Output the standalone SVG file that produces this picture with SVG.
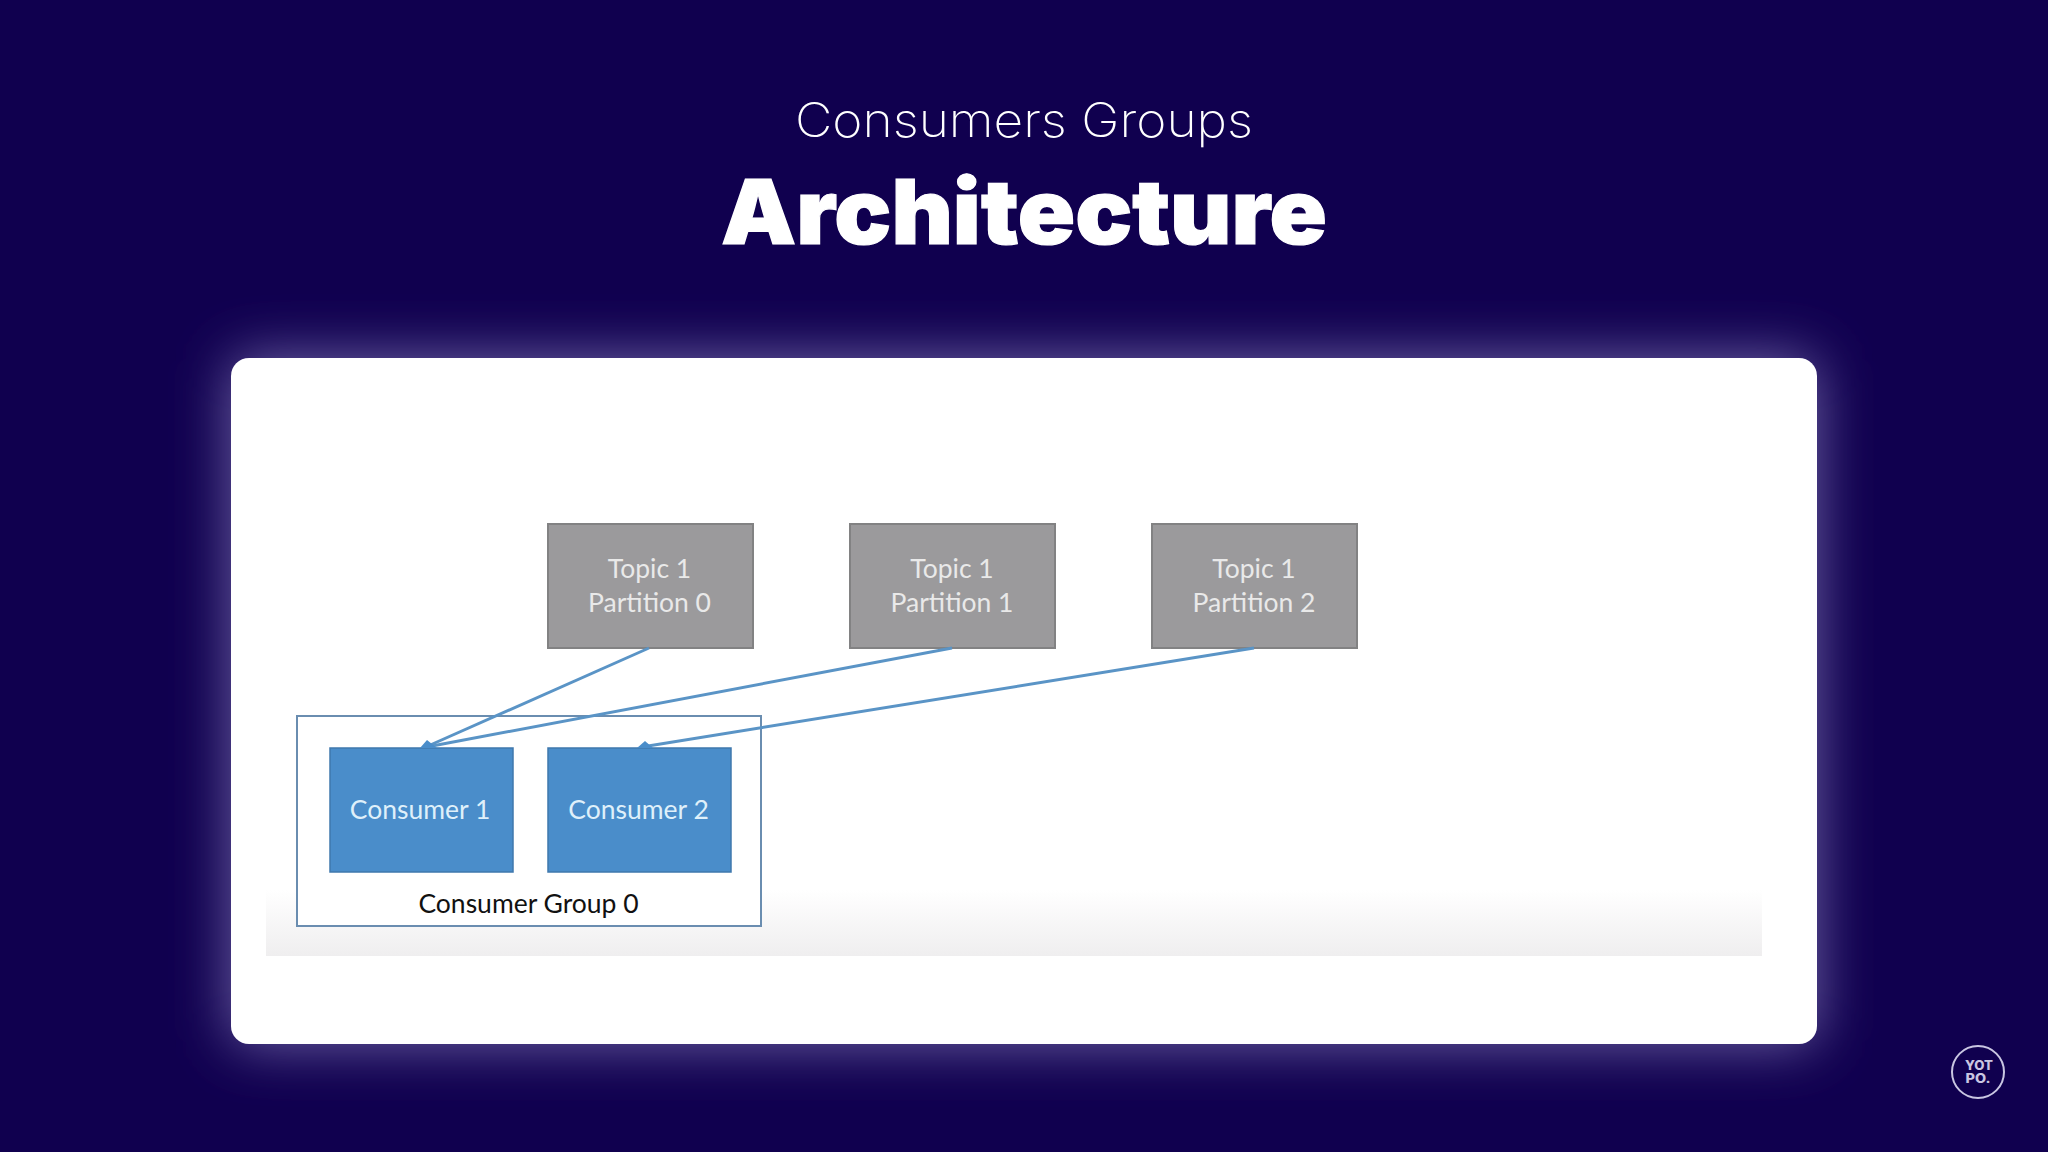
<svg xmlns="http://www.w3.org/2000/svg" width="2048" height="1152" viewBox="0 0 2048 1152">
<style>
.bx{font-family:Lato,"Open Sans",sans-serif;font-size:26.5px;text-anchor:middle}
.topic rect{fill:#9b9a9c;stroke:#828283;stroke-width:2}
.topic text{fill:#e9e9e9}
.cons rect{fill:#4a8dca;stroke:#3f78ad;stroke-width:1.5}
.cons text{fill:#dff0fa}
.conn{stroke:#5a94c6;stroke-width:3;fill:none}
.logo{font-family:Inter,sans-serif;font-weight:800;font-size:12.5px;fill:#c9c6e2;text-anchor:middle}
</style>
<defs>
<filter id="glow" x="-20%" y="-30%" width="140%" height="160%"><feGaussianBlur stdDeviation="28"/></filter>
<linearGradient id="band" x1="0" y1="0" x2="0" y2="1"><stop offset="0" stop-color="#ffffff"/><stop offset="1" stop-color="#efeeef"/></linearGradient>
</defs>
<rect width="2048" height="1152" fill="#10004f"/>
<text x="1024" y="137" text-anchor="middle" font-family="Inter,sans-serif" font-weight="200" font-size="48" fill="#ffffff" textLength="458" lengthAdjust="spacingAndGlyphs">Consumers Groups</text>
<text x="1024" y="244" text-anchor="middle" font-family="Inter,sans-serif" font-weight="900" font-size="90" fill="#ffffff" stroke="#ffffff" stroke-width="1.2" textLength="606" lengthAdjust="spacingAndGlyphs">Architecture</text>
<rect x="231" y="357" width="1586" height="687" rx="18" fill="#6f65a6" filter="url(#glow)"/>
<rect x="231" y="358" width="1586" height="686" rx="18" fill="#ffffff"/>
<rect x="266" y="890" width="1496" height="66" fill="url(#band)"/>
<g id="group0">
<rect x="297" y="716" width="464" height="210" fill="#ffffff" stroke="#6a8db0" stroke-width="2"/>
<text class="bx" x="528.500" y="913" fill="#111111">Consumer Group 0</text>
</g>
<g id="topic0" class="topic"><rect x="548" y="524" width="205" height="124"/><text class="bx" x="649.500" y="578">Topic 1</text><text class="bx" x="649.500" y="612">Partition 0</text></g>
<g id="topic1" class="topic"><rect x="850" y="524" width="205" height="124"/><text class="bx" x="952" y="578">Topic 1</text><text class="bx" x="952" y="612">Partition 1</text></g>
<g id="topic2" class="topic"><rect x="1152" y="524" width="205" height="124"/><text class="bx" x="1254" y="578">Topic 1</text><text class="bx" x="1254" y="612">Partition 2</text></g>
<g id="consumer1" class="cons"><rect x="330" y="748" width="183" height="124"/><text class="bx" x="420" y="819">Consumer 1</text></g>
<g id="consumer2" class="cons"><rect x="548" y="748" width="183" height="124"/><text class="bx" x="638.500" y="819">Consumer 2</text></g>
<g id="connectors">
<path class="conn" d="M649 648L428 746"/>
<path class="conn" d="M952 648L432 746"/>
<path class="conn" d="M1254 648L648 746"/>
<path d="M420 748L427 740L437 748Z" fill="#4a8dca"/>
<path d="M637 748L645 741L653 748Z" fill="#4a8dca"/>
</g>
<g id="logo">
<circle cx="1978" cy="1072" r="26" fill="none" stroke="#c9c6e2" stroke-width="2"/>
<text class="logo" x="1979" y="1070" textLength="28" lengthAdjust="spacingAndGlyphs">YOT</text>
<text class="logo" x="1978" y="1083" textLength="25" lengthAdjust="spacingAndGlyphs">PO.</text>
</g>
</svg>
